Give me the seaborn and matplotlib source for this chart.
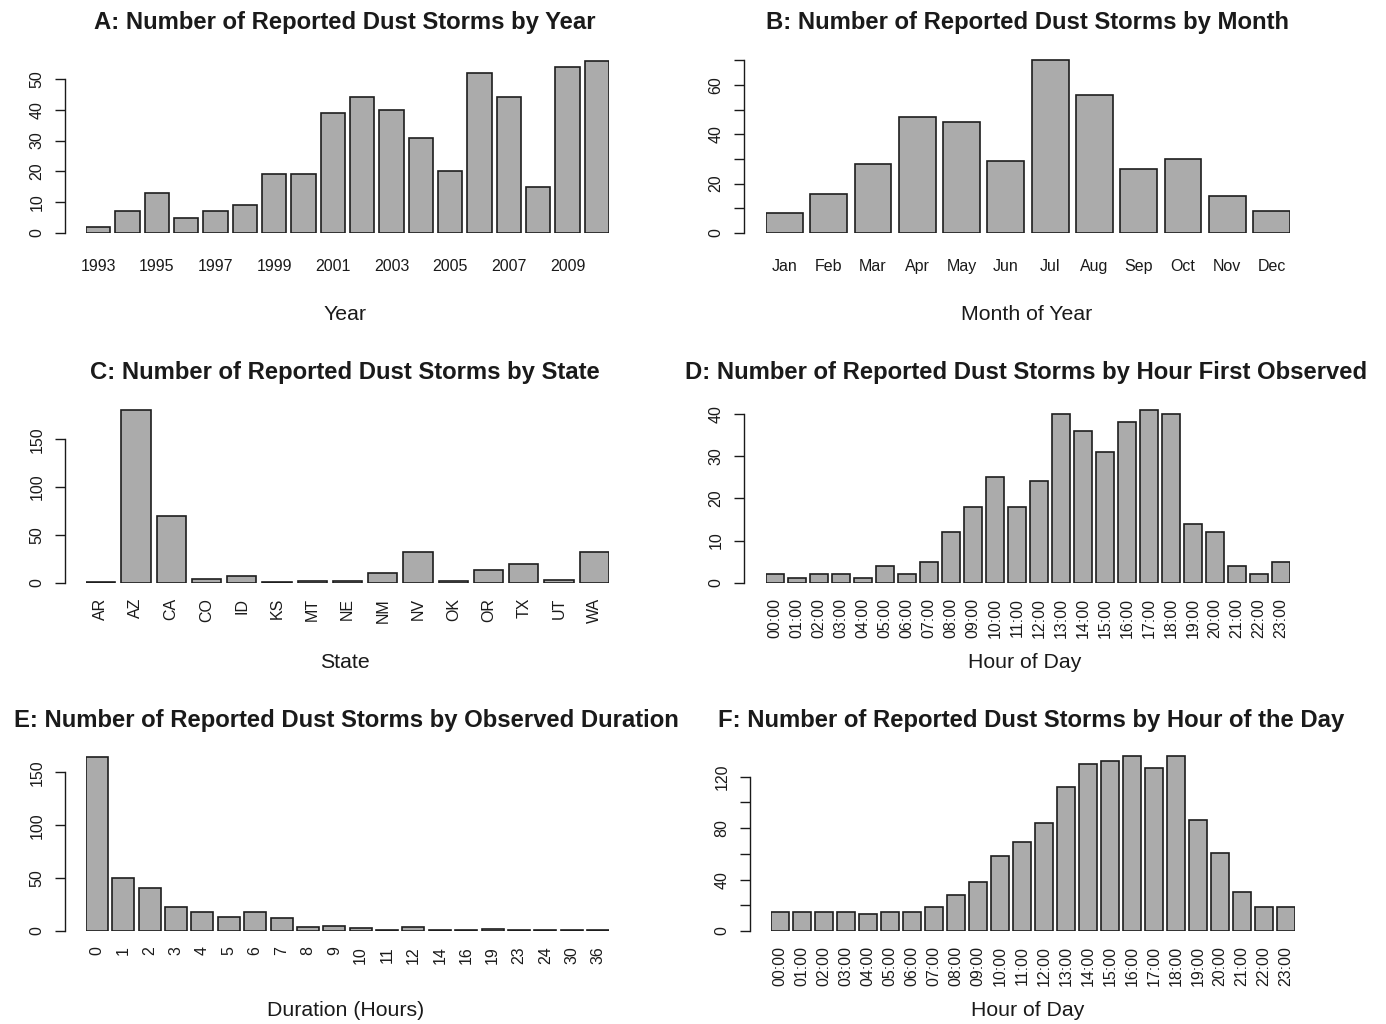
import matplotlib
matplotlib.use('Agg')
import matplotlib.pyplot as plt
import seaborn as sns
import pandas as pd

# ---------------- data ----------------
years = ['1993', '1994', '1995', '1996', '1997', '1998', '1999', '2000', '2001',
         '2002', '2003', '2004', '2005', '2006', '2007', '2008', '2009', '2010']
year_counts = [2, 7, 13, 5, 7, 9, 19, 19, 39, 44, 40, 31, 20, 52, 44, 15, 54, 56]

months = ['Jan', 'Feb', 'Mar', 'Apr', 'May', 'Jun', 'Jul', 'Aug', 'Sep', 'Oct', 'Nov', 'Dec']
month_counts = [8, 16, 28, 47, 45, 29, 70, 56, 26, 30, 15, 9]

states = ['AR', 'AZ', 'CA', 'CO', 'ID', 'KS', 'MT', 'NE', 'NM', 'NV', 'OK', 'OR', 'TX', 'UT', 'WA']
state_counts = [1, 181, 70, 4, 7, 1, 2, 2, 10, 32, 2, 13, 20, 3, 32]

hours = ['00:00', '01:00', '02:00', '03:00', '04:00', '05:00', '06:00', '07:00',
         '08:00', '09:00', '10:00', '11:00', '12:00', '13:00', '14:00', '15:00',
         '16:00', '17:00', '18:00', '19:00', '20:00', '21:00', '22:00', '23:00']
first_hour_counts = [2, 1, 2, 2, 1, 4, 2, 5, 12, 18, 25, 18, 24, 40, 36, 31, 38, 41, 40, 14, 12, 4, 2, 5]

durations = ['0', '1', '2', '3', '4', '5', '6', '7', '8', '9', '10', '11', '12',
             '14', '16', '19', '23', '24', '30', '36']
duration_counts = [164, 50, 41, 23, 18, 13, 18, 12, 4, 5, 3, 1, 4, 1, 1, 2, 1, 1, 1, 1]

hour_counts = [15, 15, 15, 15, 13, 15, 15, 19, 28, 38, 58, 69, 84, 112, 130, 132, 136, 127, 136, 86, 61, 30, 19, 19]

# ---------------- style ----------------
sns.set_style('white')
plt.rcParams['font.family'] = ['Liberation Sans', 'DejaVu Sans']
TXT = '#1a1a1a'
BAR = '#ababab'
EDGE = '#1e1e1e'

W, H = 1386, 1024
fig = plt.figure(figsize=(W / 100, H / 100), dpi=100)
PT = 72 / 100  # points per pixel


def panel(cats, vals, title, xlabel, left, right, axis_px, zero_px, ref_px, ref_val, top_px,
          yticks, ylabels, title_xy, xlabel_xy, rot, xpad, show_every=1):
    ax = fig.add_axes([left / W, 1 - zero_px / H, (right - left) / W, (zero_px - top_px) / H])
    df = pd.DataFrame({'cat': cats, 'n': vals})
    sns.barplot(data=df, x='cat', y='n', order=cats, color=BAR, saturation=1,
                edgecolor=EDGE, linewidth=1.2, width=1 / 1.2, ax=ax)
    n = len(cats)
    ax.set_xlim(-0.5 / 1.2, n - 1 + 0.5 / 1.2)
    ppu = (zero_px - ref_px) / ref_val
    ax.set_ylim(0, (zero_px - top_px) / ppu)
    for s in ['top', 'right', 'bottom']:
        ax.spines[s].set_visible(False)
    ax.spines['left'].set_position(('outward', (left - axis_px) * PT))
    ax.spines['left'].set_bounds(yticks[0], yticks[-1])
    ax.spines['left'].set_color(TXT)
    ax.spines['left'].set_linewidth(1.0)
    ax.set_yticks(yticks)
    ax.set_yticklabels(ylabels)
    ax.tick_params(axis='y', length=10 * PT, width=1.0, color=TXT, labelcolor=TXT,
                   labelsize=11.5, pad=7.5, labelrotation=90, left=True)
    for lab in ax.get_yticklabels():
        lab.set_va('center')
    ax.set_xticks(range(n))
    ax.set_xticklabels([c if i % show_every == 0 else '' for i, c in enumerate(cats)])
    ax.tick_params(axis='x', length=0, labelsize=11.5, labelcolor=TXT, pad=xpad, labelrotation=rot)
    if rot:
        for lab in ax.get_xticklabels():
            lab.set_va('top')
            lab.set_ha('center')
    ax.set_xlabel('')
    ax.set_ylabel('')
    ax.patch.set_alpha(0)
    fig.text(title_xy[0] / W, 1 - title_xy[1] / H, title, ha='center', va='center',
             fontsize=17.2, fontweight='bold', color=TXT)
    fig.text(xlabel_xy[0] / W, 1 - xlabel_xy[1] / H, xlabel, ha='center', va='center',
             fontsize=15.3, color=TXT)
    return ax


panel(years, year_counts, 'A: Number of Reported Dust Storms by Year', 'Year',
      86, 609, 65, 233, 79, 50, 50, [0, 10, 20, 30, 40, 50], ['0', '10', '20', '30', '40', '50'],
      (345, 22), (345, 314), 0, 19, show_every=2)

panel(months, month_counts, 'B: Number of Reported Dust Storms by Month', 'Month of Year',
      766, 1290, 744, 233, 85, 60, 50, [0, 10, 20, 30, 40, 50, 60, 70],
      ['0', '', '20', '', '40', '', '60', ''],
      (1027, 22), (1027, 314), 0, 19)

panel(states, state_counts, 'C: Number of Reported Dust Storms by State', 'State',
      86, 609, 65, 582.7, 439.3, 150, 405, [0, 50, 100, 150], ['0', '50', '100', '150'],
      (345, 372), (345, 662), 90, 11)

panel(hours, first_hour_counts, 'D: Number of Reported Dust Storms by Hour First Observed', 'Hour of Day',
      766, 1290, 744, 582.7, 414, 40, 405, [0, 10, 20, 30, 40], ['0', '10', '20', '30', '40'],
      (1026, 372), (1025, 662), 90, 11)

panel(durations, duration_counts, 'E: Number of Reported Dust Storms by Observed Duration', 'Duration (Hours)',
      86, 609, 65, 931, 772.3, 150, 755, [0, 50, 100, 150], ['0', '50', '100', '150'],
      (346, 720), (346, 1011), 90, 11)

panel(hours, hour_counts, 'F: Number of Reported Dust Storms by Hour of the Day', 'Hour of Day',
      771, 1295, 750, 931, 776.7, 120, 755, [0, 20, 40, 60, 80, 100, 120],
      ['0', '', '40', '', '80', '', '120'],
      (1031, 720), (1028, 1011), 90, 11)

fig.savefig('out.png', dpi=100, facecolor='white')
